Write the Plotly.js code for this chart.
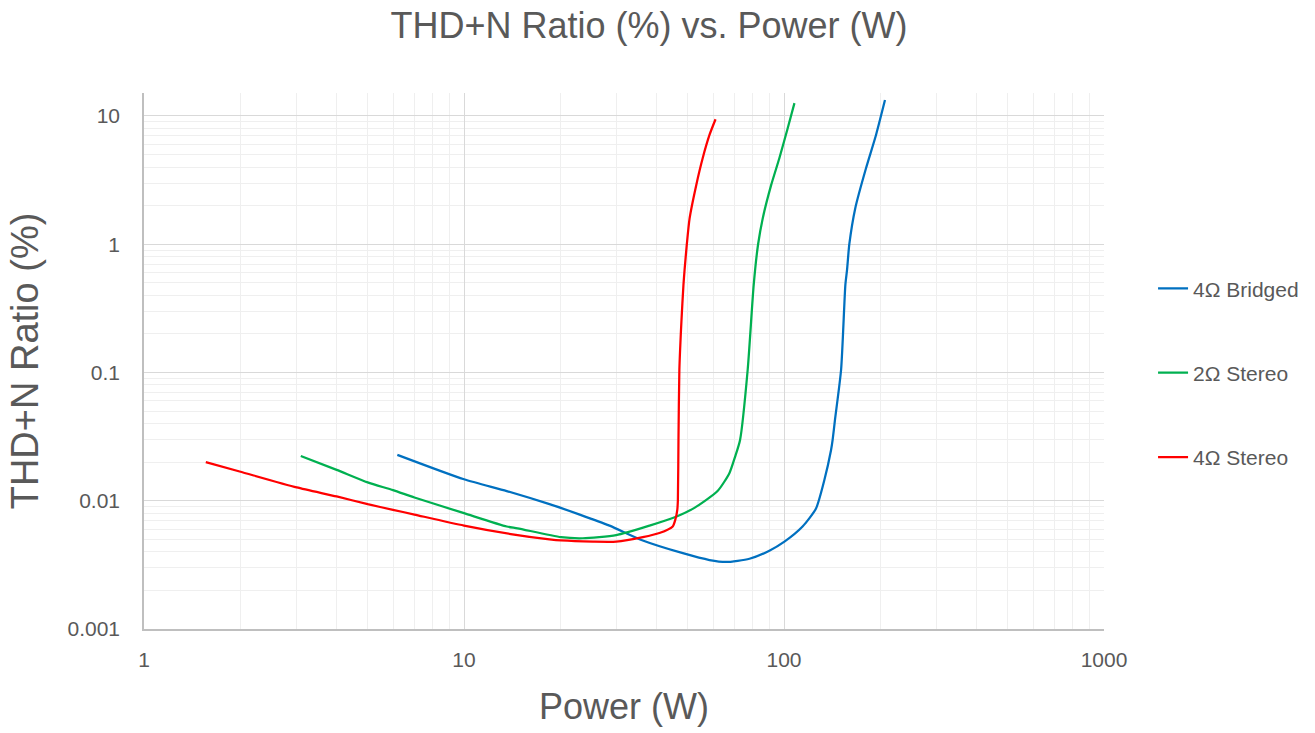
<!DOCTYPE html>
<html>
<head>
<meta charset="utf-8">
<script src="https://cdn.plot.ly/plotly-3.0.1.min.js"></script>
<style>html,body{margin:0;padding:0;background:#fff;}#chart{width:1315px;height:733px;}</style>
</head>
<body>
<div id="chart"></div>
<script>
// ---- Data ----
const seriesNames = ["4Ω Bridged", "2Ω Stereo", "4Ω Stereo"];

const bridged4Power = [6.19, 10.0, 13.6, 18.5, 23.0, 28.5, 36.2, 48.3, 58.5, 65.9, 78.0, 90.0, 100.3, 114.3, 125.9, 133.7, 140.3, 141.9, 144.3, 150.8, 155.5, 157.4, 160.0, 167.0, 180.4, 193.9, 206.8];
const bridged4Thd   = [0.0228, 0.0147, 0.0119, 0.0094, 0.0078, 0.0064, 0.0049, 0.0039, 0.00345, 0.00333, 0.00353, 0.00408, 0.0048, 0.0063, 0.0087, 0.0145, 0.0249, 0.0298, 0.0427, 0.105, 0.48, 0.63, 1.0, 1.91, 3.91, 7.11, 13.3];

const stereo2Power = [3.09, 4.0, 5.0, 6.0, 7.0, 10.0, 13.6, 14.7, 20.1, 23.5, 29.9, 38.0, 46.0, 52.5, 62.0, 67.5, 70.4, 72.9, 77.0, 80.4, 83.0, 85.8, 91.2, 96.7, 102.7, 107.8];
const stereo2Thd   = [0.0223, 0.0174, 0.0139, 0.0121, 0.0106, 0.0080, 0.0063, 0.0061, 0.0052, 0.0051, 0.0054, 0.0064, 0.0075, 0.0088, 0.0119, 0.0164, 0.0222, 0.0298, 0.105, 0.48, 1.0, 1.59, 2.90, 4.68, 8.02, 12.6];

const stereo4Power = [1.56, 1.99, 3.0, 4.0, 5.0, 6.0, 7.0, 10.0, 14.0, 18.5, 20.1, 25.3, 29.9, 36.2, 40.8, 44.9, 45.8, 46.4, 46.6, 46.8, 47.1, 47.8, 48.5, 48.9, 49.7, 50.7, 53.2, 55.7, 58.5, 61.1];
const stereo4Thd   = [0.0200, 0.0169, 0.0127, 0.0108, 0.0094, 0.0085, 0.0078, 0.0064, 0.0055, 0.0050, 0.0049, 0.0048, 0.0048, 0.0052, 0.0056, 0.0063, 0.0072, 0.0085, 0.0101, 0.030, 0.105, 0.25, 0.48, 0.63, 1.0, 1.59, 2.90, 4.68, 7.11, 9.42];

const xTickVals = [1, 10, 100, 1000];
const xTickText = ["1", "10", "100", "1000"];
const yTickVals = [0.001, 0.01, 0.1, 1, 10];
const yTickText = ["0.001", "0.01", "0.1", "1", "10"];

// ---- Styling ----
const colors = ["#0070C0", "#00B050", "#FF0000"];
const textColor = "#595959";
const fontFam = "Liberation Sans, Arial, sans-serif";

function mk(x, y, i) {
  return {
    type: "scatter", mode: "lines", x: x, y: y, name: seriesNames[i],
    legendgroup: "g" + i,
    line: {color: colors[i], width: 2.25, shape: "spline", smoothing: 0.6},
    hoverinfo: "x+y+name"
  };
}

const data = [
  mk(bridged4Power, bridged4Thd, 0),
  mk(stereo2Power, stereo2Thd, 1),
  mk(stereo4Power, stereo4Thd, 2)
];

const layout = {
  width: 1315, height: 733,
  paper_bgcolor: "#ffffff", plot_bgcolor: "#ffffff",
  margin: {l: 144, r: 210, t: 93, b: 104, pad: 0},
  font: {family: fontFam, color: textColor, size: 21},
  title: {
    text: "THD+N Ratio (%) vs. Power (W)",
    font: {family: fontFam, size: 36, color: textColor},
    x: 0.4935, xanchor: "center", xref: "container",
    y: 0.966, yanchor: "middle", yref: "container"
  },
  xaxis: {
    type: "log", range: [0, 3],
    tickvals: xTickVals, ticktext: xTickText,
    tickfont: {size: 21, color: textColor},
    showgrid: true, gridcolor: "#d9d9d9", gridwidth: 1.3,
    minor: {dtick: "D1", showgrid: true, gridcolor: "#efefef", gridwidth: 1.3, ticks: ""},
    showline: true, linecolor: "#bfbfbf", linewidth: 1.5,
    ticks: "", zeroline: false, ticklabelstandoff: 11,
    title: {text: "Power (W)", font: {size: 36, color: textColor}, standoff: 24}
  },
  yaxis: {
    type: "log", range: [-3, 1.179],
    tickvals: yTickVals, ticktext: yTickText,
    tickfont: {size: 21, color: textColor},
    showgrid: true, gridcolor: "#d9d9d9", gridwidth: 1.3,
    minor: {dtick: "D1", showgrid: true, gridcolor: "#efefef", gridwidth: 1.3, ticks: ""},
    showline: true, linecolor: "#bfbfbf", linewidth: 1.5,
    ticks: "", zeroline: false, ticklabelstandoff: 18,
    title: {text: "THD+N Ratio (%)", font: {size: 38, color: textColor}, standoff: 17}
  },
  legend: {
    x: 1.050, xanchor: "left", y: 0.478, yanchor: "middle",
    font: {size: 21, color: textColor},
    tracegroupgap: 54, bgcolor: "rgba(0,0,0,0)"
  },
  showlegend: true
};

Plotly.newPlot("chart", data, layout, {displayModeBar: false, responsive: false});
</script>
</body>
</html>
